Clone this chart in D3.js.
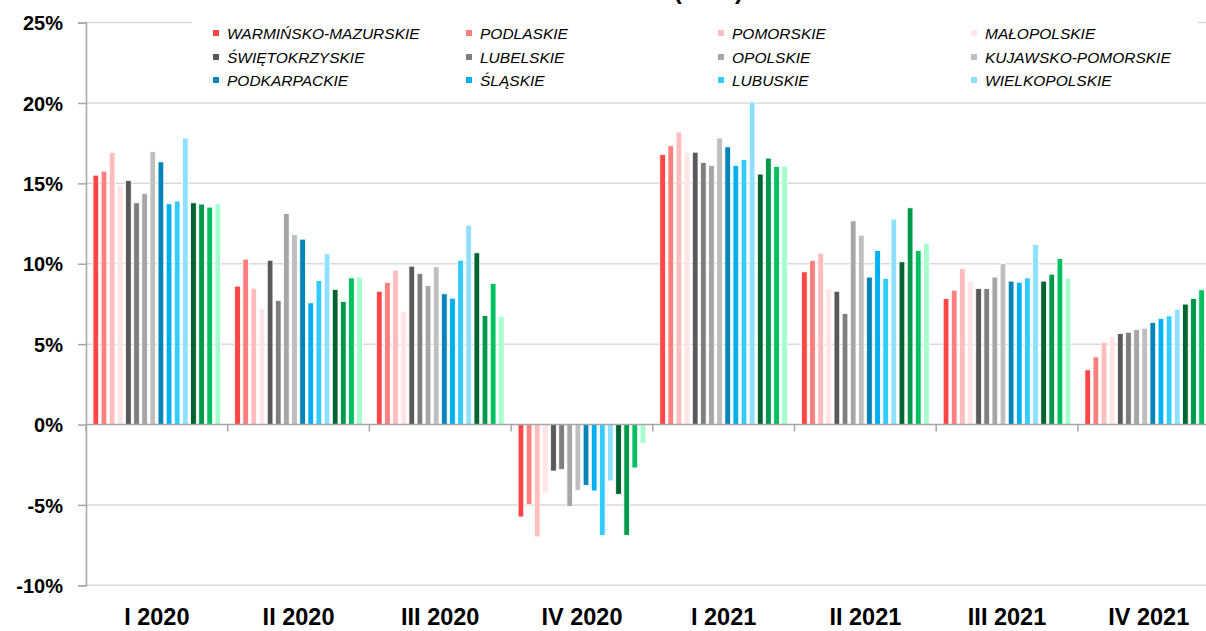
<!DOCTYPE html>
<html>
<head>
<meta charset="utf-8">
<script src="https://cdn.jsdelivr.net/npm/d3@7"></script>
<style>
  html, body { margin: 0; padding: 0; background: #fff; }
  svg { display: block; }
</style>
</head>
<body>
<svg id="chart" width="1206" height="631"></svg>
<script>
// ---- data ----
const quarters = ["I 2020", "II 2020", "III 2020", "IV 2020", "I 2021", "II 2021", "III 2021", "IV 2021"];
const regions = ["WARMIŃSKO-MAZURSKIE", "PODLASKIE", "POMORSKIE", "MAŁOPOLSKIE",
  "ŚWIĘTOKRZYSKIE", "LUBELSKIE", "OPOLSKIE", "KUJAWSKO-POMORSKIE",
  "PODKARPACKIE", "ŚLĄSKIE", "LUBUSKIE", "WIELKOPOLSKIE",
  "ZACHODNIOPOMORSKIE", "DOLNOŚLĄSKIE", "ŁÓDZKIE", "MAZOWIECKIE"];
const legendRegions = regions.slice(0, 12);
const colors = ["#FF4545", "#FF7F7F", "#FFBDBD", "#FFE5E5",
  "#595959", "#7F7F7F", "#A6A6A6", "#BFBFBF",
  "#0484B8", "#00B0F0", "#33CCFF", "#8FE0FF",
  "#006430", "#00994C", "#00C060", "#A6FFCC"];
// values per quarter (one array per quarter, ordered as regions)
const q1_2020 = [15.51, 15.76, 16.93, 14.87, 15.18, 13.79, 14.37, 16.99, 16.34, 13.73, 13.90, 17.82, 13.79, 13.71, 13.52, 13.73];
const q2_2020 = [8.61, 10.29, 8.48, 7.24, 10.22, 7.72, 13.13, 11.82, 11.53, 7.57, 8.96, 10.62, 8.40, 7.65, 9.12, 9.17];
const q3_2020 = [8.29, 8.84, 9.60, 7.05, 9.85, 9.40, 8.65, 9.81, 8.13, 7.86, 10.22, 12.40, 10.68, 6.78, 8.77, 6.74];
const q4_2020 = [-5.75, -4.98, -6.99, -4.26, -2.89, -2.80, -5.10, -4.09, -3.78, -4.13, -6.89, -3.51, -4.34, -6.89, -2.70, -1.18];
const q1_2021 = [16.80, 17.34, 18.19, 16.94, 16.94, 16.30, 16.12, 17.82, 17.27, 16.12, 16.49, 20.06, 15.58, 16.57, 16.05, 16.07];
const q2_2021 = [9.50, 10.21, 10.66, 8.44, 8.29, 6.91, 12.67, 11.78, 9.17, 10.83, 9.09, 12.78, 10.12, 13.48, 10.83, 11.28];
const q3_2021 = [7.84, 8.36, 9.71, 8.92, 8.46, 8.46, 9.17, 10.02, 8.92, 8.85, 9.12, 11.20, 8.92, 9.35, 10.33, 9.10];
const q4_2021 = [3.40, 4.21, 5.12, 5.47, 5.66, 5.74, 5.91, 5.99, 6.35, 6.60, 6.76, 7.17, 7.49, 7.84, 8.38, 8.90];
const yTicks = [-10, -5, 0, 5, 10, 15, 20, 25];
const titleText = "(% r/r)";

const values = [q1_2020, q2_2020, q3_2020, q4_2020, q1_2021, q2_2021, q3_2021, q4_2021];

// ---- chart ----
const svg = d3.select("#chart");
const left = 86, right = 1219.6;
const y = d3.scaleLinear().domain([-10, 25]).range([585.3, 22.6]);
const x0 = d3.scaleBand().domain(quarters).range([left, right]).padding(0);
const bw = x0.bandwidth();
const x1 = d3.scaleBand().domain(regions).range([7, bw - 7]).paddingInner(0.3).paddingOuter(0);
const color = d3.scaleOrdinal().domain(regions).range(colors);

// title fragment (cut off at top, as in the reference)
svg.append("text")
  .attr("x", 743).attr("y", -1)
  .attr("text-anchor", "end")
  .attr("font-family", "Liberation Sans, Arial, sans-serif")
  .attr("font-weight", "bold")
  .attr("font-size", 24)
  .attr("fill", "#000")
  .text(titleText);

// gridlines
svg.append("g")
  .selectAll("line")
  .data(yTicks.filter(d => d !== 0))
  .join("line")
  .attr("x1", left).attr("x2", 1206)
  .attr("y1", d => y(d)).attr("y2", d => y(d))
  .attr("stroke", "#D9D9D9").attr("stroke-width", 1.5);

// bars
const groups = svg.append("g")
  .selectAll("g")
  .data(quarters.map((q, i) => ({ q, vals: values[i] })))
  .join("g")
  .attr("transform", d => `translate(${x0(d.q)},0)`);

groups.selectAll("rect")
  .data(d => d.vals.map((v, j) => ({ region: regions[j], v })))
  .join("rect")
  .attr("x", d => x1(d.region))
  .attr("width", x1.bandwidth())
  .attr("y", d => y(Math.max(0, d.v)))
  .attr("height", d => Math.abs(y(d.v) - y(0)))
  .attr("fill", d => color(d.region))
  .attr("stroke", "#fff")
  .attr("stroke-width", 0.8);

// y axis
const yAxis = d3.axisLeft(y).tickValues(yTicks).tickSize(8).tickPadding(15)
  .tickFormat(d => d + "%");
const gy = svg.append("g").attr("transform", `translate(${left},0)`).call(yAxis);
gy.select(".domain").attr("stroke", "#A6A6A6").attr("stroke-width", 1.5);
gy.selectAll(".tick line").attr("stroke", "#A6A6A6").attr("stroke-width", 1.5);
gy.selectAll(".tick text")
  .attr("font-family", "Liberation Sans, Arial, sans-serif")
  .attr("font-weight", "bold").attr("font-size", 20).attr("fill", "#000")
  .attr("dy", "0.36em");

// x axis at zero with boundary ticks
const gx = svg.append("g");
gx.append("line")
  .attr("x1", left).attr("x2", 1206)
  .attr("y1", y(0)).attr("y2", y(0))
  .attr("stroke", "#A6A6A6").attr("stroke-width", 1.5);
gx.selectAll("line.tk")
  .data(quarters)
  .join("line")
  .attr("class", "tk")
  .attr("x1", d => x0(d)).attr("x2", d => x0(d))
  .attr("y1", y(0)).attr("y2", y(0) + 7)
  .attr("stroke", "#A6A6A6").attr("stroke-width", 1.5);

// x labels
svg.append("g")
  .selectAll("text")
  .data(quarters)
  .join("text")
  .attr("x", d => x0(d) + bw / 2)
  .attr("y", 625)
  .attr("text-anchor", "middle")
  .attr("font-family", "Liberation Sans, Arial, sans-serif")
  .attr("font-weight", "bold").attr("font-size", 23.5).attr("fill", "#000")
  .text(d => d);

// legend
const legend = svg.append("g");
legend.append("rect")
  .attr("x", 192).attr("y", 14).attr("width", 1006).attr("height", 80)
  .attr("fill", "#fff");
const colX = [213, 466, 718, 971];
const rowY = [33, 57, 80];
const items = legend.selectAll("g.item")
  .data(legendRegions)
  .join("g")
  .attr("class", "item")
  .attr("transform", (d, i) => `translate(${colX[i % 4]},${rowY[Math.floor(i / 4)]})`);
items.append("rect")
  .attr("x", 0).attr("y", -3).attr("width", 6).attr("height", 6)
  .attr("fill", d => color(d));
items.append("text")
  .attr("x", 14).attr("y", 0).attr("dy", "0.36em")
  .attr("font-family", "Liberation Sans, Arial, sans-serif")
  .attr("font-style", "italic").attr("font-size", 15.5).attr("fill", "#000")
  .text(d => d);
</script>
</body>
</html>
